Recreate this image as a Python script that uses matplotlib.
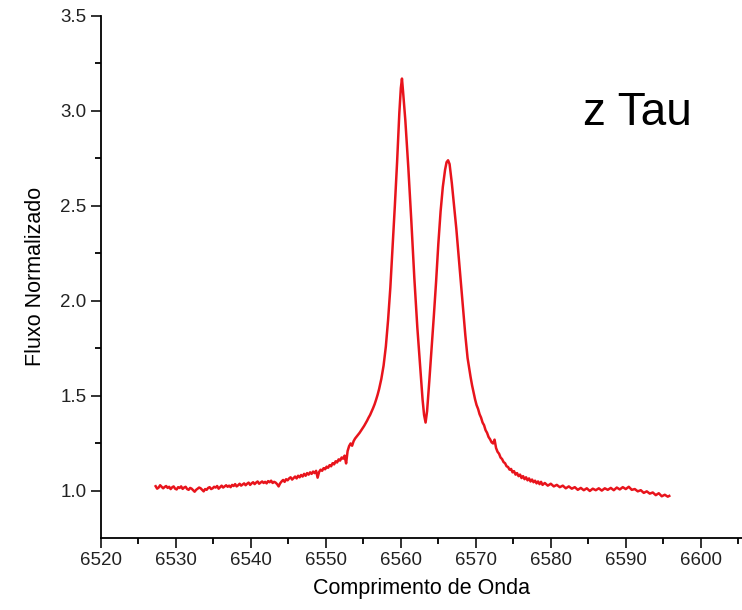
import matplotlib.pyplot as plt
from matplotlib.ticker import MultipleLocator

plt.rcParams['font.family'] = ['Liberation Sans', 'DejaVu Sans']

# H-alpha profile of z Tau (wavelength in Angstrom, normalized flux)
wave_blue = [6527.3, 6527.5, 6527.7, 6527.9, 6528.1, 6528.3, 6528.5, 6528.7, 6528.9, 6529.1,
             6529.3, 6529.5, 6529.7, 6529.9, 6530.1, 6530.3, 6530.5, 6530.7, 6530.9, 6531.1,
             6531.3, 6531.5, 6531.7, 6531.9, 6532.1, 6532.3, 6532.5, 6532.7, 6532.9, 6533.1,
             6533.3, 6533.5, 6533.7, 6533.9, 6534.1, 6534.3, 6534.5, 6534.7, 6534.9, 6535.1,
             6535.3, 6535.5, 6535.7, 6535.9, 6536.1, 6536.3, 6536.5, 6536.7, 6536.9, 6537.1,
             6537.3, 6537.5, 6537.7, 6537.9, 6538.1, 6538.3, 6538.5, 6538.7, 6538.9, 6539.1,
             6539.3, 6539.5, 6539.7, 6539.9, 6540.1, 6540.3, 6540.5, 6540.7, 6540.9, 6541.1,
             6541.3, 6541.5, 6541.7, 6541.9, 6542.1, 6542.3, 6542.5, 6542.7, 6542.9, 6543.1,
             6543.3, 6543.5, 6543.7, 6543.9, 6544.1, 6544.3, 6544.5, 6544.7, 6544.9, 6545.1,
             6545.3, 6545.5, 6545.7, 6545.9, 6546.1, 6546.3, 6546.5, 6546.7, 6546.9, 6547.1,
             6547.3, 6547.5, 6547.7, 6547.9, 6548.1, 6548.3, 6548.5, 6548.7, 6548.9, 6549.1,
             6549.3, 6549.5, 6549.7, 6549.9, 6550.1, 6550.3, 6550.5, 6550.7, 6550.9, 6551.1,
             6551.3, 6551.5, 6551.7, 6551.9, 6552.1, 6552.3, 6552.5, 6552.7, 6552.9, 6553.1,
             6553.3, 6553.5, 6553.7, 6553.9, 6554.1, 6554.3, 6554.5, 6554.7, 6554.9, 6555.1,
             6555.3, 6555.5, 6555.7, 6555.9, 6556.1, 6556.3, 6556.5, 6556.7, 6556.9, 6557.1,
             6557.4, 6557.7, 6558.0, 6558.3, 6558.6, 6558.9, 6559.2, 6559.5, 6559.8, 6560.0]
flux_blue = [1.025, 1.012, 1.018, 1.030, 1.022, 1.014, 1.021, 1.026, 1.016, 1.022,
             1.010, 1.019, 1.024, 1.012, 1.008, 1.020, 1.016, 1.024, 1.011, 1.018,
             1.022, 1.010, 1.006, 1.016, 1.012, 1.004, 0.996, 1.006, 1.012, 1.018,
             1.014, 1.006, 0.998, 1.010, 1.006, 1.016, 1.020, 1.010, 1.014, 1.022,
             1.018, 1.026, 1.012, 1.020, 1.028, 1.018, 1.024, 1.030, 1.022, 1.028,
             1.020, 1.032, 1.026, 1.036, 1.024, 1.030, 1.038, 1.028, 1.034, 1.040,
             1.030, 1.038, 1.044, 1.032, 1.040, 1.046, 1.036, 1.044, 1.050, 1.038,
             1.044, 1.050, 1.042, 1.048, 1.040, 1.052, 1.046, 1.054, 1.042, 1.048,
             1.044, 1.036, 1.024, 1.040, 1.050, 1.058, 1.048, 1.062, 1.056, 1.066,
             1.072, 1.060, 1.068, 1.076, 1.066, 1.080, 1.072, 1.084, 1.076, 1.090,
             1.080, 1.094, 1.086, 1.098, 1.090, 1.102, 1.094, 1.106, 1.070, 1.100,
             1.112, 1.106, 1.120, 1.114, 1.128, 1.122, 1.136, 1.130, 1.146, 1.140,
             1.156, 1.150, 1.166, 1.160, 1.176, 1.170, 1.186, 1.145, 1.210, 1.236,
             1.250, 1.238, 1.262, 1.276, 1.286, 1.296, 1.306, 1.318, 1.330, 1.342,
             1.356, 1.370, 1.386, 1.400, 1.418, 1.436, 1.456, 1.480, 1.506, 1.536,
             1.590, 1.660, 1.760, 1.900, 2.070, 2.280, 2.500, 2.730, 2.990, 3.120]

wave_core = [6560.15, 6560.3, 6560.6, 6561.0, 6561.4, 6561.8, 6562.2, 6562.6, 6562.9, 6563.1,
             6563.3, 6563.5, 6563.8, 6564.1, 6564.4, 6564.7, 6565.0, 6565.3, 6565.6, 6565.9,
             6566.1, 6566.3, 6566.5, 6566.8, 6567.1, 6567.4, 6567.7, 6568.0, 6568.3, 6568.6]
flux_core = [3.170, 3.100, 2.950, 2.700, 2.420, 2.120, 1.860, 1.640, 1.480, 1.400,
             1.360, 1.420, 1.580, 1.750, 1.920, 2.100, 2.300, 2.470, 2.600, 2.690,
             2.730, 2.740, 2.720, 2.620, 2.500, 2.380, 2.240, 2.100, 1.960, 1.820]

wave_red = [6568.9, 6569.1, 6569.3, 6569.5, 6569.7, 6569.9, 6570.1, 6570.3, 6570.5, 6570.7,
            6570.9, 6571.1, 6571.3, 6571.5, 6571.7, 6571.9, 6572.1, 6572.3, 6572.5, 6572.7,
            6572.9, 6573.1, 6573.3, 6573.5, 6573.7, 6573.9, 6574.1, 6574.3, 6574.5, 6574.7,
            6574.9, 6575.1, 6575.3, 6575.5, 6575.7, 6575.9, 6576.1, 6576.3, 6576.5, 6576.7,
            6576.9, 6577.1, 6577.3, 6577.5, 6577.7, 6577.9, 6578.1, 6578.3, 6578.5, 6578.7,
            6578.9, 6579.2, 6579.6, 6580.0, 6580.4, 6580.8, 6581.2, 6581.6, 6582.0, 6582.4,
            6582.8, 6583.2, 6583.6, 6584.0, 6584.4, 6584.8, 6585.2, 6585.6, 6586.0, 6586.4,
            6586.8, 6587.2, 6587.6, 6588.0, 6588.4, 6588.8, 6589.2, 6589.6, 6590.0, 6590.4,
            6590.8, 6591.2, 6591.6, 6592.0, 6592.4, 6592.8, 6593.2, 6593.6, 6594.0, 6594.4,
            6594.8, 6595.2, 6595.6, 6595.8]
flux_red = [1.700, 1.650, 1.600, 1.556, 1.520, 1.482, 1.452, 1.432, 1.404, 1.386,
            1.360, 1.346, 1.320, 1.306, 1.284, 1.272, 1.256, 1.250, 1.270, 1.226,
            1.206, 1.196, 1.176, 1.168, 1.152, 1.146, 1.130, 1.126, 1.112, 1.116,
            1.098, 1.104, 1.086, 1.094, 1.078, 1.086, 1.068, 1.078, 1.062, 1.072,
            1.056, 1.066, 1.050, 1.060, 1.046, 1.054, 1.040, 1.050, 1.036, 1.048,
            1.032, 1.042, 1.028, 1.038, 1.024, 1.032, 1.020, 1.028, 1.014, 1.024,
            1.012, 1.020, 1.006, 1.016, 1.004, 1.014, 1.000, 1.012, 1.004, 1.014,
            1.002, 1.014, 1.006, 1.016, 1.004, 1.018, 1.008, 1.020, 1.010, 1.022,
            1.006, 1.010, 0.998, 1.004, 0.990, 0.998, 0.986, 0.992, 0.978, 0.988,
            0.972, 0.980, 0.970, 0.974]

wave = wave_blue + wave_core + wave_red
flux = flux_blue + flux_core + flux_red

fig = plt.figure(figsize=(7.42, 6.10), dpi=100)
ax = fig.add_axes([0.136, 0.1185, 0.864, 0.8555])
ax.plot(wave, flux, color='#e8141c', lw=1.8)

ax.set_xlim(6520, 6605.5)
ax.set_ylim(0.754, 3.5)
ax.xaxis.set_major_locator(MultipleLocator(10))
ax.xaxis.set_minor_locator(MultipleLocator(5))
ax.yaxis.set_major_locator(MultipleLocator(0.5))
ax.yaxis.set_minor_locator(MultipleLocator(0.25))

for s in ['top', 'right']:
    ax.spines[s].set_visible(False)
for s in ['left', 'bottom']:
    ax.spines[s].set_linewidth(1.3)
ax.tick_params(which='major', direction='out', length=7, width=1.3, labelsize=13.5, colors='#222222')
ax.tick_params(which='minor', direction='out', length=4, width=1.3)

ax.set_xlabel('Comprimento de Onda', fontsize=15.5, labelpad=6)
ax.set_ylabel('Fluxo Normalizado', fontsize=15.5, labelpad=10)

ax.text(0.786, 0.795, 'z Tau', transform=fig.transFigure, fontsize=33, va='baseline')

fig.savefig('out.png', dpi=100)
